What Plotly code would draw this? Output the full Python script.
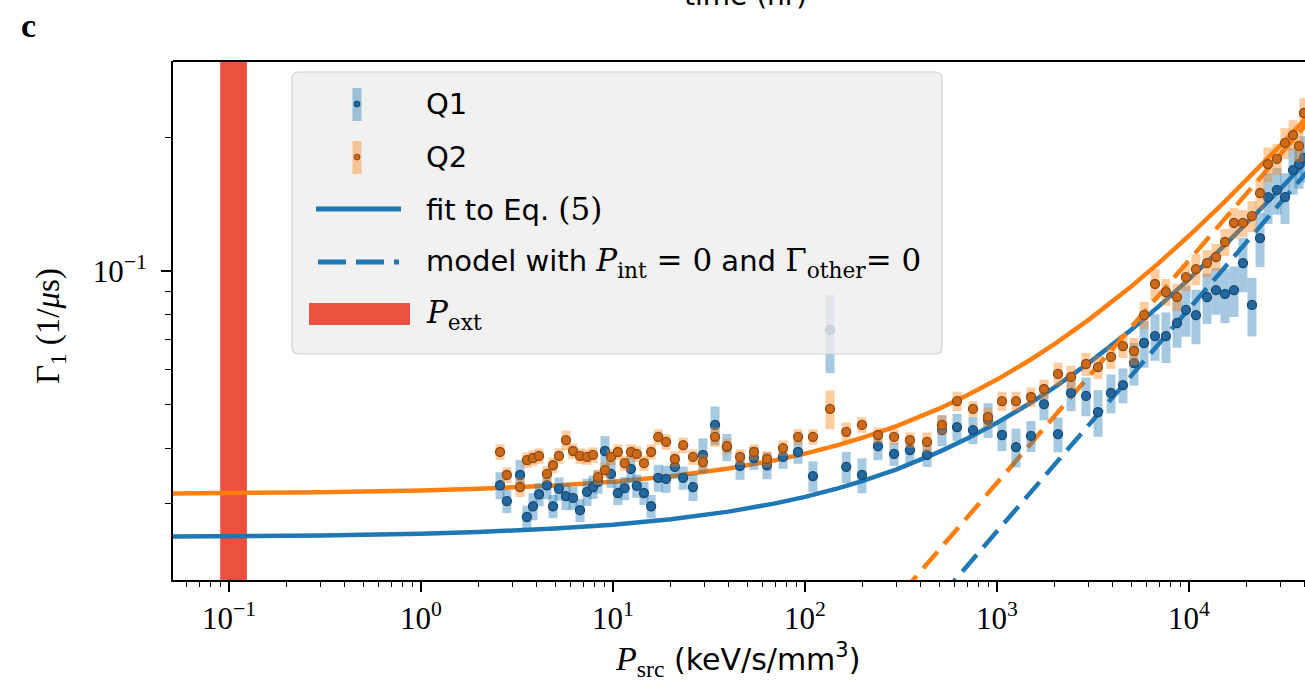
import plotly.graph_objects as go

# ---------------- data ----------------
p_src = [2.58, 2.80, 3.28, 3.56, 3.83, 4.12, 4.53, 4.87, 5.23, 5.69,
         6.19, 6.73, 7.32, 7.87, 8.35, 9.08, 9.77, 10.6, 11.5, 12.4,
         13.3, 14.5, 15.8, 17.2, 18.9, 21.0, 23.2, 26.1, 29.4, 34.0,
         39.2, 45.9, 54.2, 63.4, 76.8, 92.0, 110, 135, 164, 198,
         240, 291, 352, 432, 517, 619, 750, 898, 1062, 1256,
         1503, 1757, 2079, 2429, 2909, 3357, 3924, 4530, 5172, 5834,
         6653, 7586, 8660, 9642, 10870, 12410, 13830, 15400, 17150, 19100,
         21280, 23440, 25780, 28710, 31620, 34830, 37410, 39700]

gamma_q1 = [0.0330, 0.0304, 0.0348, 0.0280, 0.0296, 0.0315, 0.0330, 0.0296, 0.0324, 0.0312,
            0.0309, 0.0290, 0.0319, 0.0327, 0.0336, 0.0394, 0.0350, 0.0317, 0.0325, 0.0359,
            0.0329, 0.0317, 0.0296, 0.0343, 0.0341, 0.0363, 0.0343, 0.0327, 0.0386, 0.0451,
            0.0402, 0.0365, 0.0380, 0.0366, 0.0382, 0.0392, 0.0346, 0.0737, 0.0363, 0.0348,
            0.0404, 0.0388, 0.0396, 0.0386, 0.0439, 0.0446, 0.0439, 0.0463, 0.0428, 0.0402,
            0.0426, 0.0502, 0.0430, 0.0532, 0.0524, 0.0482, 0.0532, 0.0554, 0.0621, 0.0689,
            0.0714, 0.0714, 0.0764, 0.0818, 0.0796, 0.0874, 0.0906, 0.0888, 0.0906, 0.1042,
            0.0839, 0.1186, 0.1466, 0.1521, 0.1466, 0.1686, 0.1739, 0.1795]

gamma_q2 = [0.0392, 0.0348, 0.0327, 0.0376, 0.0380, 0.0384, 0.0350, 0.0366, 0.0384, 0.0417,
            0.0394, 0.0384, 0.0382, 0.0386, 0.0344, 0.0357, 0.0382, 0.0392, 0.0370, 0.0392,
            0.0388, 0.0370, 0.0392, 0.0424, 0.0413, 0.0378, 0.0406, 0.0382, 0.0372, 0.0424,
            0.0404, 0.0382, 0.0392, 0.0378, 0.0400, 0.0424, 0.0424, 0.0490, 0.0435, 0.0451,
            0.0428, 0.0424, 0.0417, 0.0413, 0.0451, 0.0510, 0.0490, 0.0470, 0.0510, 0.0510,
            0.0521, 0.0543, 0.0587, 0.0578, 0.0618, 0.0608, 0.0641, 0.0678, 0.0661, 0.0796,
            0.0935, 0.0897, 0.0874, 0.0969, 0.1010, 0.1042, 0.1075, 0.1162, 0.1282, 0.1282,
            0.1329, 0.1497, 0.1739, 0.1786, 0.1940, 0.2021, 0.1910, 0.2265]

# relative (fractional) uncertainties
rel_err_q1 = [0.07, 0.06, 0.08, 0.06, 0.07, 0.06, 0.07, 0.06, 0.06, 0.07,
              0.06, 0.06, 0.07, 0.06, 0.06, 0.08, 0.07, 0.06, 0.06, 0.07,
              0.06, 0.06, 0.06, 0.07, 0.07, 0.06, 0.06, 0.07, 0.09, 0.10,
              0.07, 0.07, 0.06, 0.07, 0.06, 0.06, 0.08, 0.20, 0.08, 0.09,
              0.07, 0.06, 0.07, 0.06, 0.08, 0.07, 0.07, 0.09, 0.08, 0.10,
              0.08, 0.08, 0.09, 0.09, 0.10, 0.12, 0.10, 0.09, 0.11, 0.12,
              0.12, 0.13, 0.12, 0.13, 0.14, 0.13, 0.12, 0.14, 0.13, 0.14,
              0.15, 0.14, 0.13, 0.12, 0.13, 0.12, 0.12, 0.12]
rel_err_q2 = [0.04, 0.04, 0.05, 0.04, 0.04, 0.04, 0.04, 0.04, 0.04, 0.05,
              0.04, 0.04, 0.04, 0.04, 0.04, 0.04, 0.04, 0.04, 0.04, 0.04,
              0.04, 0.04, 0.04, 0.04, 0.04, 0.04, 0.04, 0.04, 0.04, 0.05,
              0.04, 0.04, 0.04, 0.04, 0.04, 0.04, 0.04, 0.10, 0.05, 0.04,
              0.04, 0.04, 0.04, 0.05, 0.05, 0.05, 0.04, 0.05, 0.05, 0.05,
              0.05, 0.05, 0.06, 0.06, 0.06, 0.06, 0.06, 0.06, 0.07, 0.07,
              0.08, 0.07, 0.07, 0.07, 0.08, 0.07, 0.07, 0.07, 0.08, 0.07,
              0.08, 0.08, 0.09, 0.08, 0.08, 0.08, 0.08, 0.08]

# fit curves (Eq. 5)
fit_p = [0.05, 0.1, 0.3, 1, 2, 5, 10, 20, 40, 70,
         100, 150, 200, 300, 500, 700, 1000, 1500, 2000, 3000,
         5000, 7000, 10000, 15000, 20000, 30000, 45000]
fit_q1 = [0.02530, 0.02534, 0.02546, 0.02569, 0.02591, 0.02637, 0.02690, 0.02767, 0.02879, 0.03005,
          0.03108, 0.03252, 0.03375, 0.03584, 0.03922, 0.04202, 0.04559, 0.05057, 0.05484, 0.06209,
          0.07381, 0.08349, 0.09591, 0.1132, 0.1280, 0.1531, 0.1844]
fit_q2 = [0.03162, 0.03168, 0.03182, 0.03211, 0.03239, 0.03296, 0.03362, 0.03459, 0.03599, 0.03757,
          0.03886, 0.04066, 0.04220, 0.04482, 0.04905, 0.05255, 0.05701, 0.06326, 0.06860, 0.07766,
          0.09233, 0.1044, 0.1200, 0.1417, 0.1601, 0.1916, 0.2308]

# model with P_int = 0 and Gamma_other = 0 (straight in log-log)
model_p_q1 = [400, 60000]
model_q1 = [0.01644, 0.2014]
model_p_q2 = [250, 60000]
model_q2 = [0.01671, 0.2589]

# external power band
p_ext_lo, p_ext_hi = 0.09, 0.124

x_tickvals = [0.1, 1, 10, 100, 1000, 10000]
x_ticktext = ["10<sup>−1</sup>", "10<sup>0</sup>", "10<sup>1</sup>", "10<sup>2</sup>",
              "10<sup>3</sup>", "10<sup>4</sup>"]
y_tickvals = [0.1]
y_ticktext = ["10<sup>−1</sup>"]

# ---------------- styling ----------------
C_BLUE = "#1f77b4"
C_ORANGE = "#ff7f0e"
C_RED = "#ec5140"
SERIF = "Liberation Serif"
SANS = "DejaVu Sans"

W, H = 1305, 685
PL, PR, PT, PB = 173, 1305, 61, 580


def fx(px):
    return (px - PL) / (PR - PL)


def fy(py):
    return (PB - py) / (PB - PT)


fig = go.Figure()

# curves
fig.add_trace(go.Scatter(x=fit_p, y=fit_q1, mode="lines", line=dict(color=C_BLUE, width=4.5),
                         showlegend=False, hoverinfo="skip"))
fig.add_trace(go.Scatter(x=fit_p, y=fit_q2, mode="lines", line=dict(color=C_ORANGE, width=4.5),
                         showlegend=False, hoverinfo="skip"))
fig.add_trace(go.Scatter(x=model_p_q1, y=model_q1, mode="lines",
                         line=dict(color=C_BLUE, width=4.5, dash="22px,10px"),
                         showlegend=False, hoverinfo="skip"))
fig.add_trace(go.Scatter(x=model_p_q2, y=model_q2, mode="lines",
                         line=dict(color=C_ORANGE, width=4.5, dash="22px,10px"),
                         showlegend=False, hoverinfo="skip"))

# data with error bars
for yv, rel, face, edge, ecol in [
    (gamma_q1, rel_err_q1, "#23679f", "#184a73", "rgba(31,119,180,0.40)"),
    (gamma_q2, rel_err_q2, "#cc6a1a", "#8f4a14", "rgba(255,127,14,0.40)"),
]:
    err = [v * r for v, r in zip(yv, rel)]
    fig.add_trace(go.Scatter(
        x=p_src, y=yv, mode="markers",
        marker=dict(color=face, size=9, line=dict(color=edge, width=1.3)),
        error_y=dict(type="data", array=err, symmetric=True, color=ecol, thickness=9, width=0),
        showlegend=False, hoverinfo="skip"))

shapes = []
# P_ext band
shapes.append(dict(type="rect", xref="x", yref="paper", x0=p_ext_lo, x1=p_ext_hi, y0=0, y1=1,
                   fillcolor=C_RED, line=dict(width=0), layer="below"))
# top spine
shapes.append(dict(type="line", xref="paper", yref="paper", x0=0, x1=1, y0=1, y1=1,
                   line=dict(color="black", width=1.8), layer="above"))

# legend box (rounded)
bx0, bx1, by0, by1, r = 292, 942, 72, 354, 7


def P(px, py):
    return f"{fx(px):.5f},{fy(py):.5f}"


path = (f"M {P(bx0 + r, by0)} L {P(bx1 - r, by0)} Q {P(bx1, by0)} {P(bx1, by0 + r)} "
        f"L {P(bx1, by1 - r)} Q {P(bx1, by1)} {P(bx1 - r, by1)} "
        f"L {P(bx0 + r, by1)} Q {P(bx0, by1)} {P(bx0, by1 - r)} "
        f"L {P(bx0, by0 + r)} Q {P(bx0, by0)} {P(bx0 + r, by0)} Z")
shapes.append(dict(type="path", xref="paper", yref="paper", path=path,
                   fillcolor="rgba(238,238,238,0.82)", line=dict(color="rgba(205,205,205,0.9)", width=1.2),
                   layer="above"))

# legend samples
rows = [104, 157, 209, 262, 314]
mx = 357
shapes.append(dict(type="line", xref="paper", yref="paper", x0=fx(mx), x1=fx(mx), y0=fy(rows[0] - 16),
                   y1=fy(rows[0] + 17), line=dict(color="rgba(31,119,180,0.40)", width=9), layer="above"))
shapes.append(dict(type="line", xref="paper", yref="paper", x0=fx(mx), x1=fx(mx), y0=fy(rows[1] - 16),
                   y1=fy(rows[1] + 17), line=dict(color="rgba(255,127,14,0.40)", width=9), layer="above"))
for ry, col, ed in [(rows[0], "#23679f", "#184a73"), (rows[1], "#cc6a1a", "#8f4a14")]:
    shapes.append(dict(type="circle", xref="paper", yref="paper", x0=fx(mx - 3), x1=fx(mx + 3),
                       y0=fy(ry + 3), y1=fy(ry - 3), fillcolor=col, line=dict(color=ed, width=1), layer="above"))
shapes.append(dict(type="line", xref="paper", yref="paper", x0=fx(316), x1=fx(401), y0=fy(rows[2]), y1=fy(rows[2]),
                   line=dict(color=C_BLUE, width=5), layer="above"))
shapes.append(dict(type="line", xref="paper", yref="paper", x0=fx(318), x1=fx(399), y0=fy(rows[3]), y1=fy(rows[3]),
                   line=dict(color=C_BLUE, width=5, dash="28px,10px"), layer="above"))
shapes.append(dict(type="rect", xref="paper", yref="paper", x0=fx(309), x1=fx(410), y0=fy(325), y1=fy(303),
                   fillcolor=C_RED, line=dict(width=0), layer="above"))

LFS = 29
MS = 'style="font-family:DejaVu Serif;font-size:31px"'
legend_texts = [
    "Q1",
    "Q2",
    f"fit to Eq. <span {MS}>(5)</span>",
    f"model with <span {MS}><i>P</i><sub>int</sub> = 0</span> and "
    f"<span {MS}>Γ<sub>other</sub>= 0</span>",
    f"<span {MS}><i>P</i><sub>ext</sub></span>",
]
annotations = []
for ry, t in zip(rows, legend_texts):
    annotations.append(dict(xref="paper", yref="paper", x=fx(424), y=fy(ry), text=t, showarrow=False,
                            xanchor="left", yanchor="middle", font=dict(family=SANS, size=LFS, color="black")))

# axis titles and panel texts
annotations.append(dict(xref="paper", yref="paper", x=fx(737), y=fy(660),
                        text=f"<span style=\"font-family:{SERIF};font-size:34px\"><i>P</i><sub>src</sub></span> (keV/s/mm<sup>3</sup>)",
                        showarrow=False, xanchor="center", yanchor="middle",
                        font=dict(family=SANS, size=30, color="black")))
annotations.append(dict(xref="paper", yref="paper", x=fx(50), y=fy(326), text="Γ<sub>1</sub> (1/<i>μ</i>s)",
                        showarrow=False, textangle=-90, xanchor="center", yanchor="middle",
                        font=dict(family=SERIF, size=33, color="black")))
annotations.append(dict(xref="paper", yref="paper", x=fx(28), y=fy(25), text="<b>c</b>", showarrow=False,
                        xanchor="center", yanchor="middle", font=dict(family=SERIF, size=34, color="black")))
annotations.append(dict(xref="paper", yref="paper", x=fx(745), y=fy(-4), text="time (hr)", showarrow=False,
                        xanchor="center", yanchor="middle", font=dict(family=SANS, size=28, color="black")))

x_minor = [m * 10 ** k for k in range(-2, 5) for m in range(2, 10)]
y_minor = [0.02, 0.03, 0.04, 0.05, 0.06, 0.07, 0.08, 0.09, 0.2, 0.3]

fig.update_layout(
    width=W, height=H,
    margin=dict(l=PL, r=W - PR, t=PT, b=H - PB, pad=0),
    paper_bgcolor="white", plot_bgcolor="white",
    shapes=shapes, annotations=annotations, showlegend=False,
    xaxis=dict(type="log", range=[-1.2917, 4.6042], showline=True, linecolor="black", linewidth=1.8,
               ticks="outside", ticklen=10, tickwidth=1.5, tickcolor="black",
               tickmode="array", tickvals=x_tickvals, ticktext=x_ticktext,
               tickfont=dict(family=SERIF, size=31, color="black"), ticklabelstandoff=0,
               showgrid=False, zeroline=False,
               minor=dict(tickmode="array", tickvals=x_minor, ticks="outside", ticklen=5, tickwidth=1.2,
                          tickcolor="black", showgrid=False)),
    yaxis=dict(type="log", range=[-1.6944, -0.5281], showline=True, linecolor="black", linewidth=1.8,
               ticks="outside", ticklen=10, tickwidth=1.5, tickcolor="black",
               tickmode="array", tickvals=y_tickvals, ticktext=y_ticktext,
               tickfont=dict(family=SERIF, size=31, color="black"), ticklabelstandoff=8,
               showgrid=False, zeroline=False,
               minor=dict(tickmode="array", tickvals=y_minor, ticks="outside", ticklen=6, tickwidth=1.2,
                          tickcolor="black", showgrid=False)),
)

fig.write_html("out.html")
